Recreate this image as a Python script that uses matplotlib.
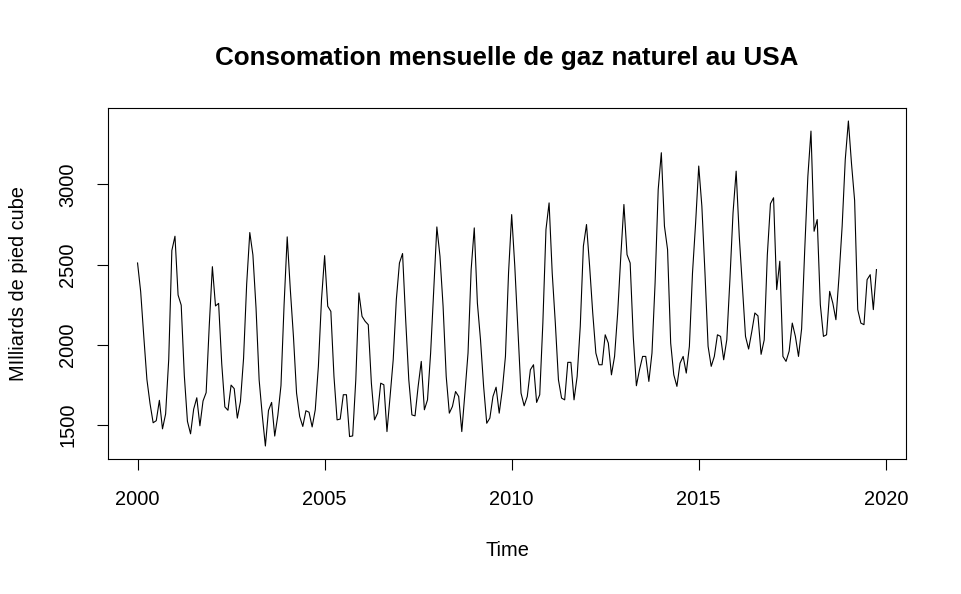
import matplotlib
matplotlib.use("Agg")
import matplotlib.pyplot as plt
import numpy as np

plt.rcParams['font.family'] = ['Liberation Sans', 'DejaVu Sans']

# Monthly values, Jan 2000 - Oct 2019 (billions of cubic feet)
y2000 = [2510, 2331, 2051, 1783, 1633, 1513, 1526, 1653, 1475, 1568, 1909, 2588]
y2001 = [2677, 2310, 2247, 1807, 1522, 1444, 1598, 1669, 1494, 1649, 1701, 2120]
y2002 = [2487, 2242, 2258, 1881, 1612, 1591, 1748, 1726, 1542, 1646, 1914, 2379]
y2003 = [2700, 2560, 2230, 1780, 1560, 1368, 1590, 1640, 1430, 1560, 1745, 2250]
y2004 = [2673, 2344, 2052, 1698, 1552, 1490, 1588, 1579, 1487, 1594, 1865, 2281]
y2005 = [2556, 2240, 2208, 1802, 1531, 1536, 1688, 1688, 1427, 1431, 1781, 2323]
y2006 = [2177, 2146, 2125, 1760, 1531, 1573, 1760, 1750, 1458, 1677, 1906, 2281]
y2007 = [2510, 2569, 2156, 1781, 1562, 1556, 1740, 1896, 1594, 1656, 1948, 2344]
y2008 = [2735, 2552, 2240, 1802, 1573, 1615, 1708, 1677, 1458, 1698, 1948, 2469]
y2009 = [2729, 2260, 2031, 1740, 1510, 1542, 1677, 1735, 1573, 1719, 1927, 2450]
y2010 = [2812, 2490, 2094, 1698, 1619, 1677, 1844, 1875, 1640, 1688, 2135, 2719]
y2011 = [2885, 2448, 2135, 1781, 1667, 1656, 1890, 1890, 1656, 1802, 2115, 2615]
y2012 = [2750, 2490, 2198, 1948, 1875, 1875, 2062, 2010, 1812, 1927, 2198, 2552]
y2013 = [2875, 2562, 2510, 2050, 1744, 1844, 1927, 1927, 1771, 1948, 2385, 2969]
y2014 = [3198, 2740, 2594, 2010, 1812, 1740, 1885, 1927, 1823, 1990, 2448, 2760]
y2015 = [3115, 2865, 2448, 1990, 1865, 1927, 2062, 2052, 1906, 2031, 2406, 2823]
y2016 = [3083, 2677, 2365, 2052, 1973, 2080, 2198, 2180, 1940, 2030, 2560, 2880]
y2017 = [2917, 2344, 2521, 1927, 1896, 1960, 2135, 2052, 1927, 2100, 2594, 3050]
y2018 = [3333, 2708, 2781, 2250, 2052, 2062, 2333, 2260, 2156, 2427, 2740, 3156]
y2019 = [3396, 3130, 2900, 2219, 2135, 2125, 2406, 2437, 2219, 2469]

start_year = 2000
x_ticks = [2000, 2005, 2010, 2015, 2020]
y_ticks = [1500, 2000, 2500, 3000]
title = "Consomation mensuelle de gaz naturel au USA"
xlabel = "Time"
ylabel = "MIlliards de pied cube"

values = np.array(y2000 + y2001 + y2002 + y2003 + y2004 + y2005 + y2006 + y2007 +
                  y2008 + y2009 + y2010 + y2011 + y2012 + y2013 + y2014 + y2015 +
                  y2016 + y2017 + y2018 + y2019, dtype=float)
t = start_year + np.arange(len(values)) / 12.0

W, H = 962, 594
fig = plt.figure(figsize=(W / 100, H / 100), dpi=100)
L, R, T, B = 108, 906, 108, 459
ax = fig.add_axes([L / W, 1 - B / H, (R - L) / W, (B - T) / H])

ax.plot(t, values, color='black', linewidth=0.8)

# R-style 4% range extension
xr = t.max() - t.min()
ax.set_xlim(t.min() - 0.04 * xr, t.max() + 0.04 * xr)
yr = values.max() - values.min()
ax.set_ylim(values.min() - 0.04 * yr, values.max() + 0.04 * yr)

ax.set_xticks(x_ticks)
ax.set_xticklabels([str(v) for v in x_ticks])
ax.set_yticks(y_ticks)
ax.set_yticklabels([str(v) for v in y_ticks], rotation=90, va='center')

for s in ax.spines.values():
    s.set_linewidth(0.8)
    s.set_color('black')
ax.tick_params(axis='both', direction='out', length=8, width=0.8,
               labelsize=14.4, colors='black')
ax.tick_params(axis='x', pad=14)
ax.tick_params(axis='y', pad=14)

fig.text(0.5 * (L + R) / W, 1 - 58 / H, title, ha='center', va='center',
         fontsize=18.7, fontweight='bold')
fig.text(0.5 * (L + R) / W, 1 - 551 / H, xlabel, ha='center', va='center',
         fontsize=14.4)
fig.text(19 / W, 1 - 0.5 * (T + B) / H, ylabel, ha='center', va='center',
         rotation=90, fontsize=14.4)

fig.savefig("out.png", dpi=100)
